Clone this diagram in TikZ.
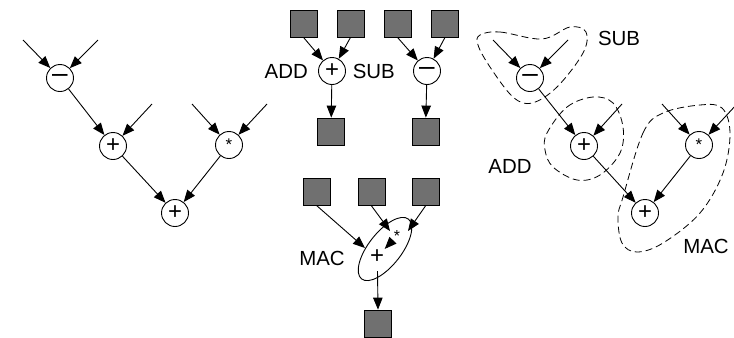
\documentclass[tikz,border=0pt]{standalone}
\usepackage{fontspec}
\setmainfont{Liberation Sans}
\usetikzlibrary{arrows.meta,shapes.geometric}
\definecolor{boxgray}{HTML}{707070}
\begin{document}
\begin{tikzpicture}[x=1bp,y=-1bp,
  op/.style={circle,draw,line width=0.9bp,minimum size=27bp,inner sep=0pt,font=\fontsize{24}{24}\selectfont},
  opminus/.style={op,font=\fontsize{28}{28}\selectfont},
  opstar/.style={op,font=\fontsize{17}{17}\selectfont},
  reg/.style={draw,line width=0.8bp,fill=boxgray,minimum size=27bp,inner sep=0pt},
  lbl/.style={font=\fontsize{20.5}{23}\selectfont,inner sep=0pt},
  arr/.style={line width=0.9bp,-{Triangle[length=12bp,width=9.5bp]}},
  blob/.style={dash pattern=on 7bp off 4bp,line width=0.8bp},
  sym/.style={inner sep=1bp,font=\fontsize{24}{24}\selectfont}
]
\clip (0,0) rectangle (734,337);
% ---------- left graph ----------
\node[opminus] (m1) at (60,78) {–};
\node[op] (p1) at (113,146) {+};
\node[opstar] (s1) at (229,145) {*};
\node[op] (p2) at (175,213) {+};
\coordinate (i1) at (23,40);
\coordinate (i2) at (98,40);
\coordinate (i3) at (152,104);
\coordinate (i4) at (192,104);
\coordinate (i5) at (267,104);
\draw[arr] (i1) -- (m1);
\draw[arr] (i2) -- (m1);
\draw[arr] (m1) -- (p1);
\draw[arr] (i3) -- (p1);
\draw[arr] (i4) -- (s1);
\draw[arr] (i5) -- (s1);
\draw[arr] (p1) -- (p2);
\draw[arr] (s1) -- (p2);
% ---------- ADD / SUB ----------
\node[reg] (a1) at (303.5,23.5) {};
\node[reg] (a2) at (350.5,23.5) {};
\node[reg] (a3) at (397.5,23.5) {};
\node[reg] (a4) at (445,23.5) {};
\node[op] (add) at (332,71) {+};
\node[opminus] (sub) at (427,71) {–};
\node[reg] (ao) at (331,131.5) {};
\node[reg] (so) at (425.5,131.5) {};
\node[lbl,anchor=east] (addl) at (308,71) {ADD};
\node[lbl,anchor=east] (subl) at (395,71) {SUB};
\draw[arr] (a1.south) -- (add);
\draw[arr] (a2.south) -- (add);
\draw[arr] (a3.south) -- (sub);
\draw[arr] (a4.south) -- (sub);
\draw[arr] (add) -- (ao);
\draw[arr] (sub) -- (so);
% ---------- MAC ----------
\node[reg] (c1) at (317,192) {};
\node[reg] (c2) at (371.5,192) {};
\node[reg] (c3) at (425.5,192) {};
\node[reg] (c4) at (378,323.5) {};
\node[ellipse,draw,line width=0.9bp,rotate=52,minimum width=76bp,minimum height=33bp,inner sep=0pt] (mac) at (385,249) {};
\node[sym] (macp) at (377,257) {+};
\node[sym,font=\fontsize{16}{16}\selectfont] (macs) at (397,236) {*};
\node[lbl] (macl) at (322,258) {MAC};
\coordinate (mi1) at (365,248);
\coordinate (mi2) at (390,231);
\coordinate (mi3) at (408,231);
\coordinate (mo) at (377.5,271);
\draw[arr] (c1.south) -- (mi1);
\draw[arr] (c2.south) -- (mi2);
\draw[arr] (c3.south) -- (mi3);
\draw[arr] (macs) -- (macp);
\draw[arr] (mo) -- (c4.north);
% ---------- right graph ----------
\node[opminus] (m2) at (530,78) {–};
\node[op] (p3) at (584,146) {+};
\node[opstar] (s2) at (699,145) {*};
\node[op] (p4) at (645,213) {+};
\coordinate (j1) at (493,40);
\coordinate (j2) at (568,40);
\coordinate (j3) at (622,104);
\coordinate (j4) at (662,104);
\coordinate (j5) at (737,104);
\draw[arr] (j1) -- (m2);
\draw[arr] (j2) -- (m2);
\draw[arr] (m2) -- (p3);
\draw[arr] (j3) -- (p3);
\draw[arr] (j4) -- (s2);
\draw[arr] (j5) -- (s2);
\draw[arr] (p3) -- (p4);
\draw[arr] (s2) -- (p4);
\draw[blob] plot[smooth cycle,tension=0.6] coordinates {(480,35) (500,32) (542,39) (570,27) (586,32) (583,53) (557,87) (532,103) (513,97) (490,67) (478,45)};
\draw[blob] plot[smooth cycle,tension=0.6] coordinates {(547,133) (567,107) (593,97) (613,103) (623,127) (620,153) (600,175) (577,180) (553,167) (545,150)};
\draw[blob] plot[smooth cycle,tension=0.6] coordinates {(623,197) (643,133) (663,113) (700,105) (722,108) (730,133) (723,173) (700,213) (663,243) (637,252) (622,243) (618,217)};
\node[lbl] (subr) at (619,38) {SUB};
\node[lbl] (addr) at (510,166) {ADD};
\node[lbl] (macr) at (706,246) {MAC};
\end{tikzpicture}
\end{document}
